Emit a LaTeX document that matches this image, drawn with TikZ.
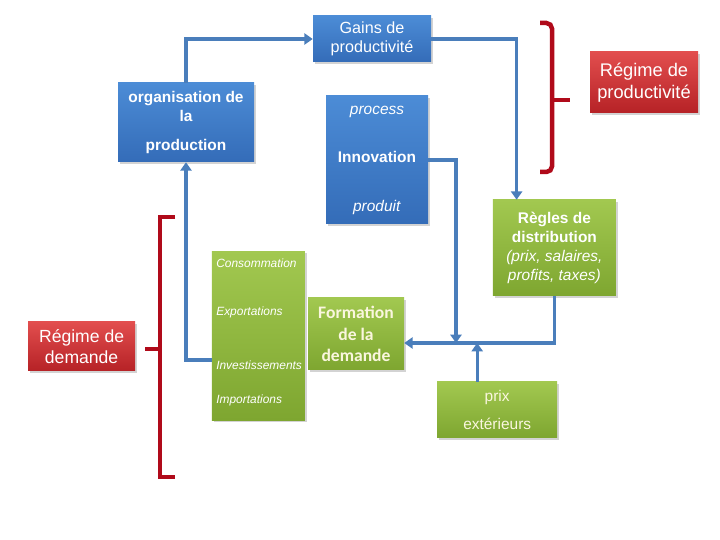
\documentclass[tikz,border=0pt]{standalone}
\usepackage{fontspec}
\setmainfont{Liberation Sans}
\newfontfamily\calibrifont{Carlito}
\usetikzlibrary{positioning, shadows, arrows.meta, calc}
\usepackage{xcolor}

\definecolor{blueTop}{RGB}{76,140,214}
\definecolor{blueBot}{RGB}{52,108,184}
\definecolor{greenTop}{RGB}{162,200,80}
\definecolor{greenBot}{RGB}{126,166,48}
\definecolor{redTop}{RGB}{226,78,78}
\definecolor{redBot}{RGB}{182,34,38}
\definecolor{lineblue}{RGB}{74,126,187}
\definecolor{bracketred}{RGB}{176,10,26}
\definecolor{cream}{RGB}{250,246,222}

\begin{document}
\begin{tikzpicture}[
        font=\fontsize{11}{13.5}\selectfont,
        % Define styles for the nodes
        box/.style={rectangle, draw=none, text=white, align=center, inner sep=2pt, drop shadow={shadow xshift=1.2pt, shadow yshift=-1.5pt, opacity=0.35}},
        bluebox/.style={box, top color=blueTop, bottom color=blueBot},
        greenbox/.style={box, top color=greenTop, bottom color=greenBot},
        redbox/.style={box, top color=redTop, bottom color=redBot, font=\fontsize{12.5}{15.2}\selectfont},
        compitem/.style={text=white, font=\fontsize{8.5}{10}\selectfont\itshape, anchor=west, inner sep=0pt},
        flow/.style={draw=lineblue, line width=2.2pt, -{Triangle[width=8pt,length=6pt]}},
        bracket/.style={draw=bracketred, line width=3.2pt}
    ]

        \useasboundingbox (0,0) rectangle (18,13.5);

        % --- Nodes ---
        \node[bluebox, minimum width=2.95cm, minimum height=1.15cm, font=\fontsize{11.5}{13.5}\selectfont] (gains) at (9.3,12.525) {Gains de\\productivité};
        \node[bluebox, minimum width=3.4cm, minimum height=1.98cm, font=\fontsize{11}{13.5}\selectfont\bfseries] (org) at (4.65,10.44) {organisation de\\la\\[7pt]production};
        \node[bluebox, minimum width=2.55cm, minimum height=3.2cm] (innov) at (9.425,9.5) {\textit{process}\\[21pt]\textbf{Innovation}\\[21pt]\textit{produit}};

        \node[redbox, minimum width=2.7cm, minimum height=1.525cm, font=\fontsize{13}{15.6}\selectfont] (regprod) at (16.1,11.44) {Régime de\\productivité};
        \node[greenbox, minimum width=3.075cm, minimum height=2.4cm] (regles) at (13.86,7.3) {\textbf{Règles de}\\\textbf{distribution}\\\textit{(prix, salaires,}\\\textit{profits, taxes)}};

        % demand components stacked in one box
        \node[greenbox, minimum width=2.325cm, minimum height=4.225cm] (dem) at (6.46,5.11) {};
        \node[compitem] (cons) at (5.4,6.925) {Consommation};
        \node[compitem] (expo) at (5.4,5.7) {Exportations};
        \node[compitem] (inv) at (5.4,4.375) {Investissements};
        \node[compitem] (impo) at (5.4,3.5) {Importations};

        \node[greenbox, minimum width=2.4cm, minimum height=1.8cm, text=cream, font=\calibrifont\fontsize{12.5}{15.3}\selectfont\bfseries] (formation) at (8.9,5.15) {Formation\\de la\\demande};
        \node[greenbox, minimum width=3cm, minimum height=1.4cm, text=cream] (prix) at (12.43,3.25) {prix\\[6.5pt]extérieurs};
        \node[redbox, minimum width=2.675cm, minimum height=1.225cm] (regdem) at (2.04,4.84) {Régime de\\demande};

        % --- Brackets ---
        \draw[bracket] (4.375,8.075) -- (4,8.075) -- (4,1.575) -- (4.375,1.575);
        \draw[bracket] (4,4.775) -- (3.625,4.775);
        \draw[bracket, rounded corners=4pt] (13.5,12.925) -- (13.8,12.925) -- (13.8,9.2) -- (13.5,9.2);
        \draw[bracket] (13.8,11) -- (14.25,11);

        % --- Edges ---
        \coordinate (pj) at (11.4,4.925);
        \coordinate (pxfoot) at ([xshift=-0.5cm]prix.north);

        \draw[flow] (org.north) |- (gains.west);
        \draw[flow] (gains.east) -| ([xshift=0.6cm]regles.north west);
        \draw[flow] (innov.east) -| (pj);
        \draw[flow] (regles.south) |- ([yshift=-0.225cm]formation.east);
        \draw[flow] (pxfoot) -- (pxfoot |- pj);
        \draw[flow] ([yshift=-0.61cm]dem.west) -| (org.south);

    \end{tikzpicture}
\end{document}
